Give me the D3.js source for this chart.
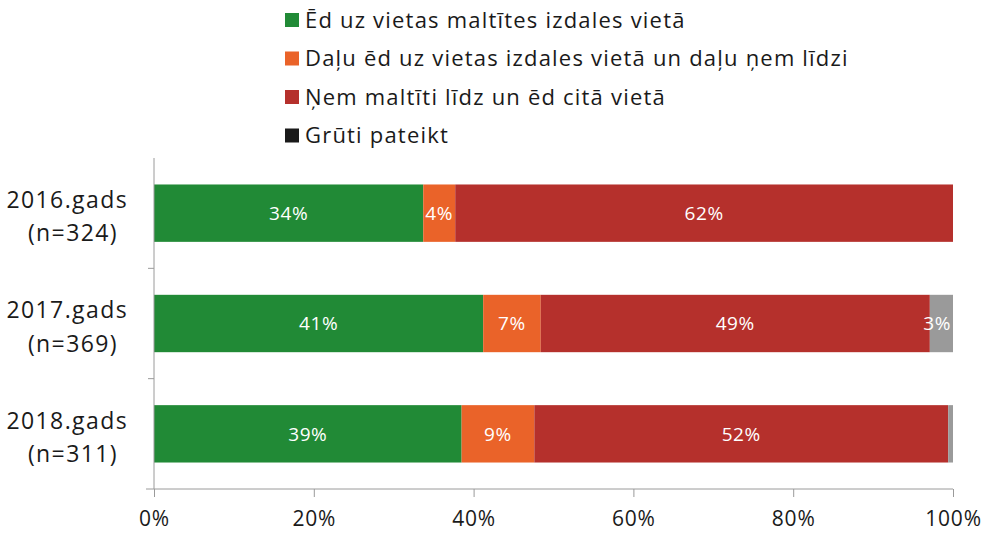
<!DOCTYPE html>
<html>
<head>
<meta charset="utf-8">
<script src="https://cdn.jsdelivr.net/npm/d3@7"></script>
<style>
  body { margin: 0; background: #fff; }
  text { font-family: "Open Sans", sans-serif; fill: #1a1a1a; }
</style>
</head>
<body>
<svg id="chart" width="990" height="533"></svg>
<script>
/* data */
const years = ["2016.gads", "2017.gads", "2018.gads"];
const counts = ["(n=324)", "(n=369)", "(n=311)"];
const seriesNames = [
  "Ēd uz vietas maltītes izdales vietā",
  "Daļu ēd uz vietas izdales vietā un daļu ņem līdzi",
  "Ņem maltīti līdz un ēd citā vietā",
  "Grūti pateikt"
];
const colors = ["#218a36", "#ea6329", "#b5302c", "#9a9a9a"];
const legendColors = ["#218a36", "#ea6329", "#b5302c", "#1a1a1a"];
const edUzVietas = [33.7, 41.2, 38.5];
const daluEd = [4.0, 7.2, 9.1];
const nemLidzi = [62.3, 48.7, 51.8];
const grutiPateikt = [0, 2.9, 0.6];
const shownLabels = [
  ["34%", "4%", "62%", ""],
  ["41%", "7%", "49%", "3%"],
  ["39%", "9%", "52%", ""]
];
const xTicks = [0, 20, 40, 60, 80, 100];

/* chart */
(function() {
  const svg = d3.select("#chart");
  const left = 154, right = 953, top = 158, bottom = 489;

  let rows = years.map((y, i) => ({
    year: y, i,
    s0: edUzVietas[i], s1: daluEd[i], s2: nemLidzi[i], s3: grutiPateikt[i]
  }));
  let stack = d3.stack().keys(["s0", "s1", "s2", "s3"])(rows);

  let x = d3.scaleLinear().domain([0, 100]).range([left, right]);
  let y = d3.scaleBand().domain(years).range([top, bottom])
    .paddingInner(0.48).paddingOuter(0.24);

  // bars
  stack.forEach((layer, k) => {
    let g = svg.append("g");
    g.selectAll("rect").data(layer).enter().append("rect")
      .attr("x", d => x(d[0]))
      .attr("y", d => y(d.data.year))
      .attr("width", d => x(d[1]) - x(d[0]))
      .attr("height", y.bandwidth())
      .style("fill", colors[k]);

    g.selectAll("text").data(layer).enter().append("text")
      .attr("x", d => k === 3 ? x(d[1]) - 2 : (x(d[0]) + x(d[1])) / 2)
      .attr("y", d => y(d.data.year) + y.bandwidth() / 2)
      .attr("dy", "0.36em")
      .attr("text-anchor", k === 3 ? "end" : "middle")
      .style("fill", "#fff")
      .style("font-size", "19px")
      .style("letter-spacing", "0.6px")
      .text(d => shownLabels[d.data.i][k]);
  });

  // left axis
  svg.append("line")
    .attr("x1", left).attr("x2", left).attr("y1", top).attr("y2", bottom)
    .style("stroke", "#9a9a9a");
  years.slice(1).forEach(yr => {
    let yy = y(yr) - y.step() * y.paddingInner() / 2;
    svg.append("line")
      .attr("x1", left - 6).attr("x2", left).attr("y1", yy).attr("y2", yy)
      .style("stroke", "#9a9a9a");
  });
  years.forEach((yr, i) => {
    let cy = y(yr) + y.bandwidth() / 2;
    let t = svg.append("text")
      .attr("x", 128).attr("y", cy)
      .attr("text-anchor", "end")
      .style("font-size", "23px")
      .style("letter-spacing", "1.4px");
    t.append("tspan").attr("x", 128).attr("dy", "-0.22em").text(yr);
    t.append("tspan").attr("x", 118).attr("dy", "1.45em").text(counts[i]);
  });

  // bottom axis
  let xAxis = d3.axisBottom(x)
    .tickValues(xTicks)
    .tickSize(8)
    .tickPadding(14)
    .tickFormat(d => d + "%");
  let ax = svg.append("g")
    .attr("transform", "translate(0," + bottom + ")")
    .call(xAxis);
  ax.select(".domain").attr("d", "M" + (left - 8) + ",0H" + right).style("stroke", "#9a9a9a");
  ax.selectAll(".tick line").style("stroke", "#9a9a9a");
  ax.selectAll(".tick text")
    .style("font-size", "21px")
    .style("letter-spacing", "0.8px")
    .style("fill", "#1a1a1a")
    .style("font-family", "'Open Sans', sans-serif");

  // legend
  let lg = svg.append("g").attr("transform", "translate(285,20)");
  seriesNames.forEach((name, i) => {
    let row = lg.append("g").attr("transform", "translate(0," + (i * 38.5) + ")");
    row.append("rect")
      .attr("x", 0).attr("y", -7).attr("width", 14).attr("height", 14)
      .style("fill", legendColors[i]);
    row.append("text")
      .attr("x", 20).attr("y", 0).attr("dy", "0.35em")
      .style("font-size", "22px")
      .style("letter-spacing", "1.2px")
      .text(name);
  });
})();
</script>
</body>
</html>
